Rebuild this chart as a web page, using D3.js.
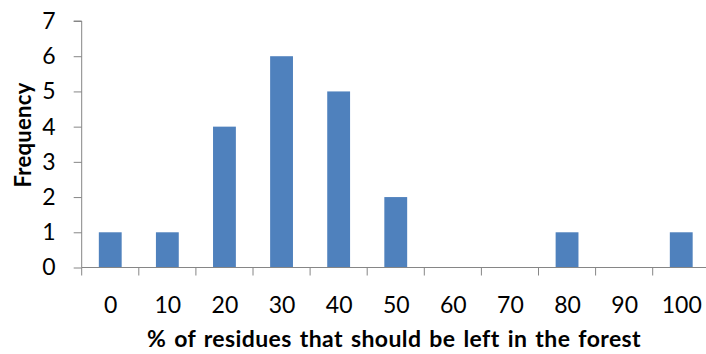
<!DOCTYPE html>
<html>
<head>
<meta charset="utf-8">
<script src="https://cdn.jsdelivr.net/npm/d3@7"></script>
<style>
  body { margin: 0; background: #fff; }
  svg { display: block; }
  text { font-family: Lato, "Open Sans", sans-serif; fill: #000; }
</style>
</head>
<body>
<div id="chart"></div>
<script>
const w = 706;
const h = 354;

const categories = ["0", "10", "20", "30", "40", "50", "60", "70", "80", "90", "100"];
const frequency = [1, 1, 4, 6, 5, 2, 0, 0, 1, 0, 1];
const yTicks = [0, 1, 2, 3, 4, 5, 6, 7];

const xTitle = "% of residues that should be left in the forest";
const yTitle = "Frequency";

const axisColor = "#868686";
const barColor = "#4F81BD";

const svg = d3.select("#chart").append("svg").attr("width", w).attr("height", h);

const x = d3.scaleBand().domain(categories).range([81.7, 709.8]).paddingInner(0.6).paddingOuter(0.3);
const y = d3.scaleLinear().domain([0, 7]).range([267.5, 21]);

// bars
svg.selectAll("rect.bar")
    .data(frequency)
    .enter()
    .append("rect")
    .attr("class", "bar")
    .attr("x", (d, i) => x(categories[i]))
    .attr("width", x.bandwidth())
    .attr("y", d => y(d))
    .attr("height", d => y(0) - y(d))
    .style("fill", barColor);

// y axis
const yAxis = d3.axisLeft(y).tickValues(yTicks).tickSize(8).tickPadding(18).tickFormat(d3.format("d"));
const gy = svg.append("g").attr("transform", "translate(81.7,0)").call(yAxis);
gy.select(".domain").attr("stroke", axisColor).attr("d", `M-8,${y(7)}H0V${y(0)}`);
gy.selectAll(".tick line").attr("stroke", axisColor);
gy.selectAll(".tick text").style("font-size", "23px").style("font-family", "Lato, sans-serif").attr("fill", "#000");

// x axis: ticks on category boundaries
const xBounds = d3.scaleLinear().domain([0, categories.length]).range(x.range());
const gx = svg.append("g").attr("transform", `translate(0,${y(0)})`);
gx.append("line")
    .attr("x1", xBounds(0)).attr("x2", xBounds(categories.length))
    .attr("stroke", axisColor);
gx.selectAll("line.tick")
    .data(d3.range(categories.length + 1))
    .enter()
    .append("line")
    .attr("class", "tick")
    .attr("x1", d => xBounds(d)).attr("x2", d => xBounds(d))
    .attr("y1", 0).attr("y2", 8)
    .attr("stroke", axisColor);
gx.selectAll("text")
    .data(categories)
    .enter()
    .append("text")
    .attr("x", d => x(d) + x.bandwidth() / 2 + 0.5)
    .attr("y", 45)
    .attr("text-anchor", "middle")
    .style("font-size", "23px")
    .text(d => d);

// titles
svg.append("text")
    .attr("x", 394)
    .attr("y", 347)
    .attr("text-anchor", "middle")
    .style("font-size", "23px")
    .style("font-weight", "bold")
    .style("letter-spacing", "0.4px")
    .style("word-spacing", "2px")
    .text(xTitle);

svg.append("text")
    .attr("transform", "translate(31,135) rotate(-90)")
    .attr("text-anchor", "middle")
    .style("font-size", "22px")
    .style("font-weight", "bold")
    .style("letter-spacing", "0.3px")
    .text(yTitle);
</script>
</body>
</html>
